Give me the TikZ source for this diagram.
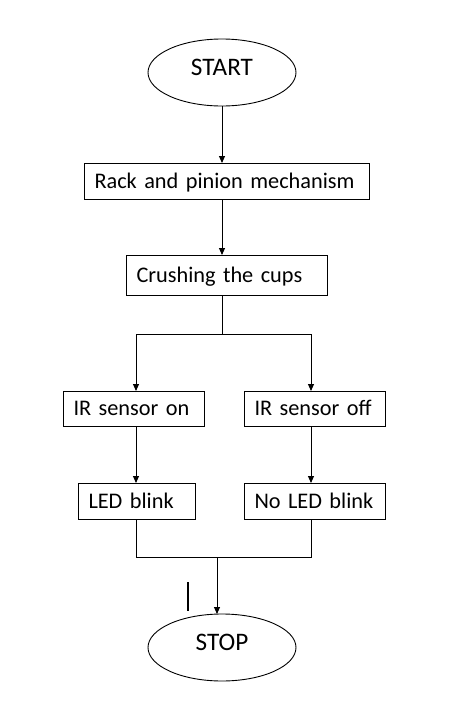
\documentclass[tikz,border=0pt]{standalone}
\usepackage{fontspec}
\setmainfont{Carlito}
\usetikzlibrary{shapes.geometric,arrows.meta}
\begin{document}
\begin{tikzpicture}[x=1pt,y=-1pt,
  line width=0.9pt,
  every node/.style={inner sep=0pt, outer sep=0pt},
  terminal/.style={draw, ellipse, minimum width=148pt, minimum height=67pt,
    font=\fontsize{25.2}{30}\selectfont, text height=16.3pt, text depth=9.6pt},
  procbox/.style={draw, rectangle, align=left, inner xsep=10.5pt,
    font=\fontsize{22.3}{27}\selectfont, text height=14.4pt, text depth=0pt},
  flow/.style={-{Triangle[width=6pt,length=7pt]}}
]
\fill[white] (0,0) rectangle (467,726);
\useasboundingbox (0,0) rectangle (467,726);

\node[terminal] (start) at (222,72.5) {START};
\node[procbox, minimum width=285pt, minimum height=36pt, text width=264pt] (rack) at (226.5,181) {\mbox{Rack and pinion mechanism}};
\node[procbox, minimum width=201pt, minimum height=40pt, text width=180pt] (crush) at (226.5,275) {\mbox{Crushing the cups}};
\node[procbox, minimum width=141pt, minimum height=35pt, text width=120pt] (iron) at (133.5,408.5) {\mbox{IR sensor on}};
\node[procbox, minimum width=141pt, minimum height=35pt, text width=120pt] (iroff) at (314.5,408.5) {\mbox{IR sensor off}};
\node[procbox, minimum width=117pt, minimum height=36pt, text width=96pt] (led) at (136.5,501) {\mbox{LED blink}};
\node[procbox, minimum width=141pt, minimum height=36pt, text width=120pt] (noled) at (314.5,501) {\mbox{No LED blink}};
\node[terminal] (stop) at (222,647.5) {STOP};

\coordinate (split) at (222,334);
\coordinate (bl) at (136,334);
\coordinate (br) at (311,334);
\coordinate (ml) at (136,557);
\coordinate (mr) at (311,557);
\coordinate (mid) at (217,557);
\coordinate (strayA) at (188,582);
\coordinate (strayB) at (188,611);

\draw[flow] (start.south) -- (start.south |- rack.north);
\draw[flow] (rack.south -| start) -- (crush.north -| start);
\draw (crush.south -| start) -- (split);
\draw[flow] (split) -- (bl) -- (bl |- iron.north);
\draw[flow] (split) -- (br) -- (br |- iroff.north);
\draw[flow] (bl |- iron.south) -- (bl |- led.north);
\draw[flow] (br |- iroff.south) -- (br |- noled.north);
\draw (bl |- led.south) -- (ml) -- (mr) -- (br |- noled.south);
\draw[flow] (mid) -- (mid |- stop.north);
\draw[line width=2pt] (strayA) -- (strayB);
\end{tikzpicture}
\end{document}
